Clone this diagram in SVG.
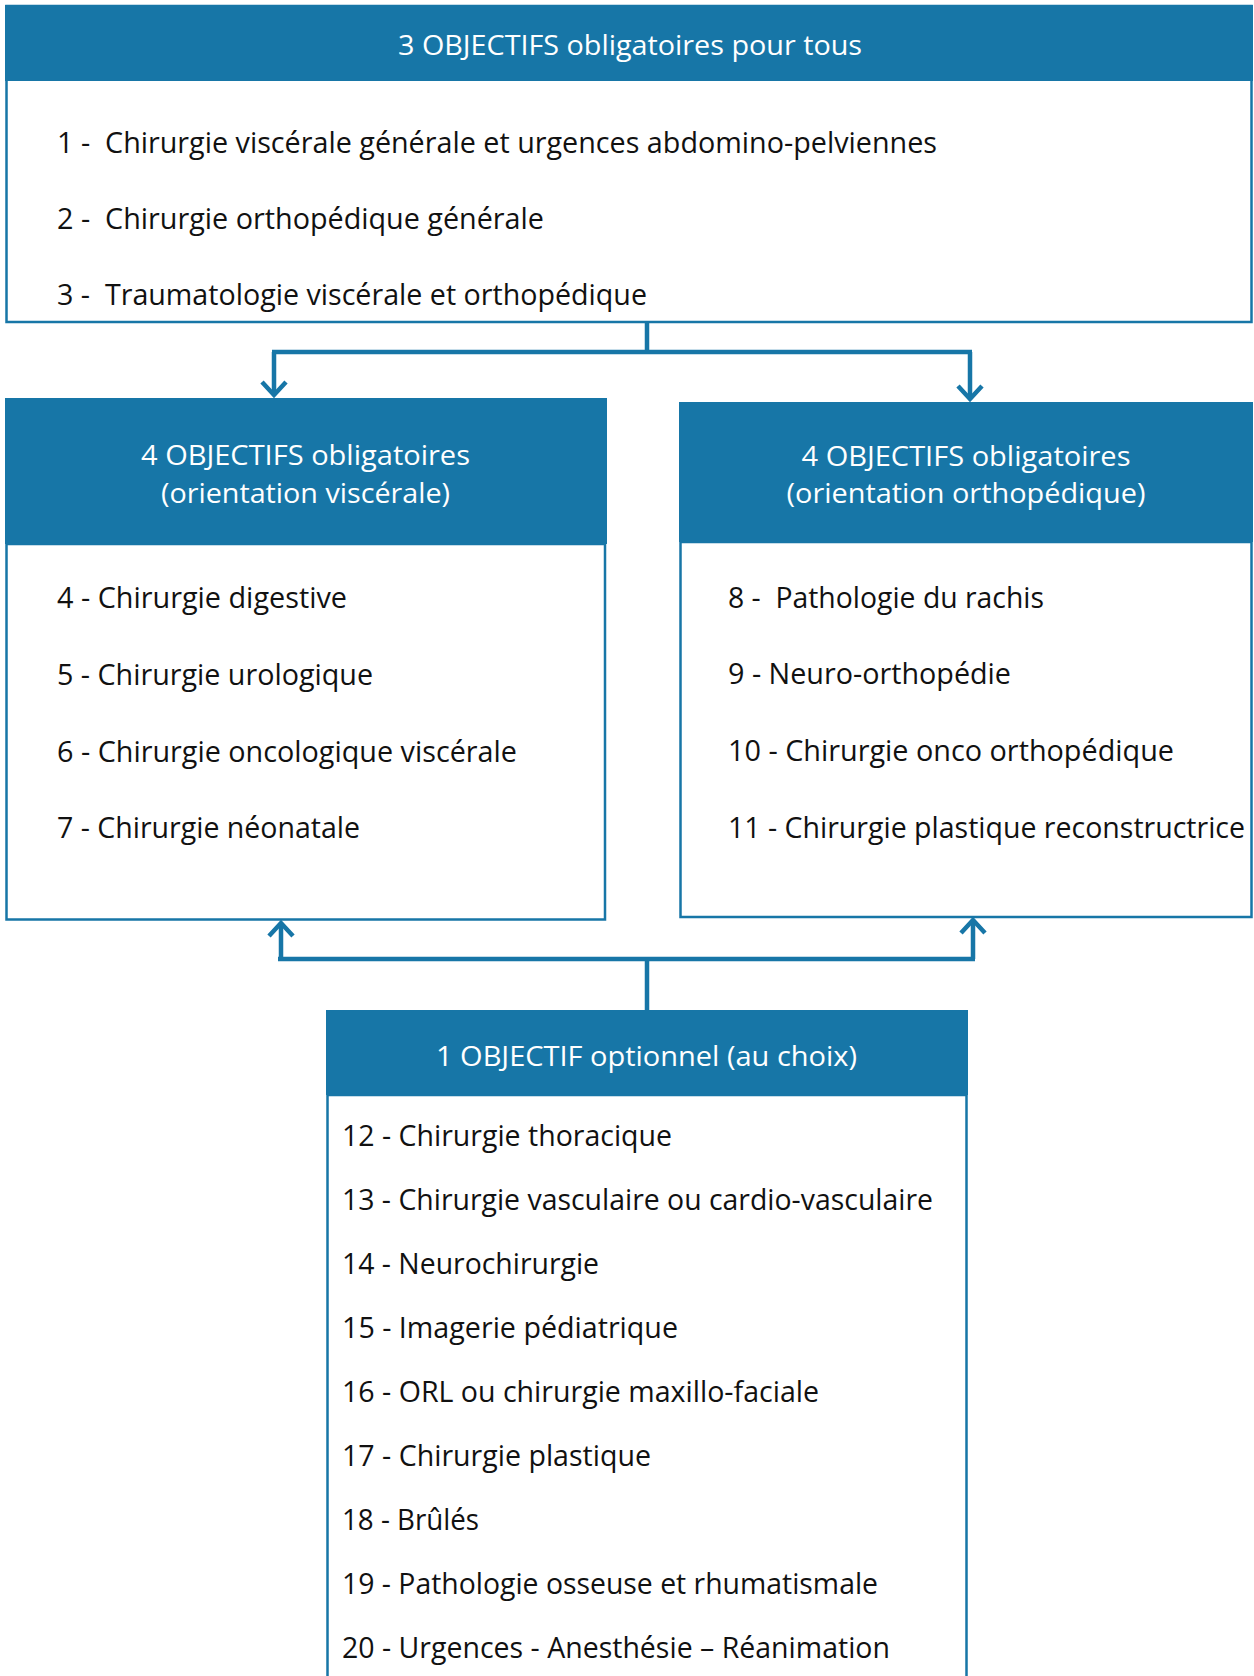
<svg xmlns="http://www.w3.org/2000/svg" width="1254" height="1676" viewBox="0 0 1254 1676">
<style>
.hdr{fill:#1776a7}
.box{fill:#fff;stroke:#1776a7;stroke-width:2.5}
.ht{font-family:"Open Sans","Noto Sans",sans-serif;font-size:28px;fill:#fff;text-anchor:middle}
.it{font-family:"Open Sans","Noto Sans",sans-serif;font-size:29px;fill:#111}
.con{fill:none;stroke:#1776a7;stroke-width:4.5}
.arr{fill:none;stroke:#1776a7;stroke-width:4.5;stroke-linecap:butt;stroke-linejoin:miter}
</style>
<rect width="1254" height="1676" fill="#fff"/>

<g id="top">
<rect class="box" x="6.5" y="6" width="1245" height="316"/>
<rect class="hdr" x="5" y="5" width="1248" height="76"/>
<text class="ht" x="630" y="55" textLength="464" lengthAdjust="spacingAndGlyphs">3 OBJECTIFS obligatoires pour tous</text>
<text class="it" x="57" y="153" xml:space="preserve" textLength="880" lengthAdjust="spacingAndGlyphs">1 -  Chirurgie viscérale générale et urgences abdomino-pelviennes</text>
<text class="it" x="57" y="229" xml:space="preserve" textLength="487" lengthAdjust="spacingAndGlyphs">2 -  Chirurgie orthopédique générale</text>
<text class="it" x="57" y="305" xml:space="preserve" textLength="590" lengthAdjust="spacingAndGlyphs">3 -  Traumatologie viscérale et orthopédique</text>
</g>

<g id="visc">
<rect class="box" x="6.5" y="544" width="598.5" height="375.5"/>
<rect class="hdr" x="5" y="398" width="602" height="146"/>
<text class="ht" x="305.5" y="465" textLength="329" lengthAdjust="spacingAndGlyphs">4 OBJECTIFS obligatoires</text>
<text class="ht" x="305.5" y="503" textLength="289" lengthAdjust="spacingAndGlyphs">(orientation viscérale)</text>
<text class="it" x="57" y="608" textLength="290" lengthAdjust="spacingAndGlyphs">4 - Chirurgie digestive</text>
<text class="it" x="57" y="685" textLength="316" lengthAdjust="spacingAndGlyphs">5 - Chirurgie urologique</text>
<text class="it" x="57" y="762" textLength="460" lengthAdjust="spacingAndGlyphs">6 - Chirurgie oncologique viscérale</text>
<text class="it" x="57" y="838" textLength="303" lengthAdjust="spacingAndGlyphs">7 - Chirurgie néonatale</text>
</g>

<g id="ortho">
<rect class="box" x="680.5" y="542" width="571" height="375"/>
<rect class="hdr" x="679" y="402" width="574" height="140"/>
<text class="ht" x="966" y="466" textLength="329" lengthAdjust="spacingAndGlyphs">4 OBJECTIFS obligatoires</text>
<text class="ht" x="966" y="503" textLength="359" lengthAdjust="spacingAndGlyphs">(orientation orthopédique)</text>
<text class="it" x="728" y="608" xml:space="preserve" textLength="316" lengthAdjust="spacingAndGlyphs">8 -  Pathologie du rachis</text>
<text class="it" x="728" y="684" textLength="283" lengthAdjust="spacingAndGlyphs">9 - Neuro-orthopédie</text>
<text class="it" x="728" y="761" textLength="446" lengthAdjust="spacingAndGlyphs">10 - Chirurgie onco orthopédique</text>
<text class="it" x="728" y="838" textLength="517" lengthAdjust="spacingAndGlyphs">11 - Chirurgie plastique reconstructrice</text>
</g>

<g id="option">
<path class="box" d="M327.5 1676 V1095 H966.5 V1676"/>
<rect class="hdr" x="326" y="1010" width="642" height="85"/>
<text class="ht" x="646.5" y="1066" textLength="421" lengthAdjust="spacingAndGlyphs">1 OBJECTIF optionnel (au choix)</text>
<text class="it" x="342" y="1146" textLength="330" lengthAdjust="spacingAndGlyphs">12 - Chirurgie thoracique</text>
<text class="it" x="342" y="1210" textLength="591" lengthAdjust="spacingAndGlyphs">13 - Chirurgie vasculaire ou cardio-vasculaire</text>
<text class="it" x="342" y="1274" textLength="257" lengthAdjust="spacingAndGlyphs">14 - Neurochirurgie</text>
<text class="it" x="342" y="1338" textLength="336" lengthAdjust="spacingAndGlyphs">15 - Imagerie pédiatrique</text>
<text class="it" x="342" y="1402" textLength="477" lengthAdjust="spacingAndGlyphs">16 - ORL ou chirurgie maxillo-faciale</text>
<text class="it" x="342" y="1466" textLength="309" lengthAdjust="spacingAndGlyphs">17 - Chirurgie plastique</text>
<text class="it" x="342" y="1530" textLength="137" lengthAdjust="spacingAndGlyphs">18 - Brûlés</text>
<text class="it" x="342" y="1594" textLength="536" lengthAdjust="spacingAndGlyphs">19 - Pathologie osseuse et rhumatismale</text>
<text class="it" x="342" y="1658" textLength="548" lengthAdjust="spacingAndGlyphs">20 - Urgences - Anesthésie – Réanimation</text>
</g>

<g id="connectors">
<path class="con" d="M647 323 V352 M272 352 H972 M274 352 V395 M970 352 V399"/>
<path class="arr" d="M262 382 L274 395 L286 382"/>
<path class="arr" d="M958 386 L970 399 L982 386"/>
<path class="con" d="M647 1010 V959 M278 959 H975 M281 959 V924 M973 959 V921"/>
<path class="arr" d="M269 936 L281 923 L293 936"/>
<path class="arr" d="M961 933 L973 920 L985 933"/>
</g>
</svg>
